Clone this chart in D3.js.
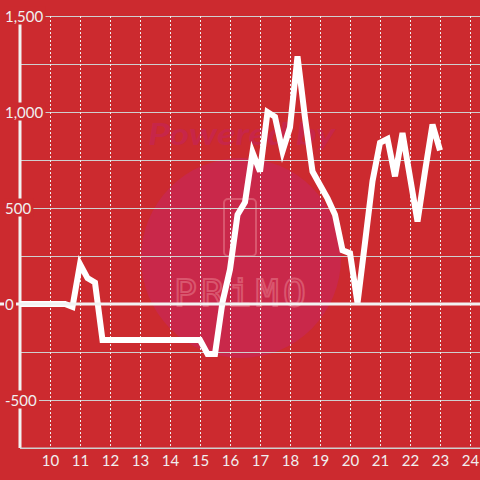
<!DOCTYPE html>
<html>
<head>
<meta charset="utf-8">
<script src="https://cdn.jsdelivr.net/npm/d3@7/dist/d3.min.js"></script>
<style>
  html, body { margin: 0; padding: 0; background: #cc2a2f; }
  svg { display: block; }
</style>
</head>
<body>
<svg id="chart" width="480" height="480"></svg>
<script>
// ---- data (hours of day, values) ----
const hours = [
  9.0, 9.25, 9.5, 9.75, 10.0, 10.25, 10.5, 10.75,
  11.0, 11.25, 11.5, 11.75, 12.0, 12.25, 12.5, 12.75,
  13.0, 13.25, 13.5, 13.75, 14.0, 14.25, 14.5, 14.75,
  15.0, 15.25, 15.5, 15.75, 16.0, 16.25, 16.5, 16.75,
  17.0, 17.25, 17.5, 17.75, 18.0, 18.25, 18.5, 18.75,
  19.0, 19.25, 19.5, 19.75, 20.0, 20.25, 20.5, 20.75,
  21.0, 21.25, 21.5, 21.75, 22.0, 22.25, 22.5, 22.75, 23.0
];
const values = [
  0, 0, 0, 0, 0, 0, 0, -15,
  208, 135, 112, -188, -188, -188, -188, -188,
  -188, -188, -188, -188, -188, -188, -188, -188,
  -188, -260, -260, 10, 180, 465, 530, 790,
  690, 1000, 975, 795, 920, 1290, 970, 690,
  620, 550, 465, 280, 265, 5, 320, 640,
  840, 860, 665, 890, 660, 430, 690, 935, 800
];
const xTicks = [10, 11, 12, 13, 14, 15, 16, 17, 18, 19, 20, 21, 22, 23, 24];
const yGridTicks = [-750, -500, -250, 0, 250, 500, 750, 1000, 1250, 1500];
const yLabelTicks = [-500, 0, 500, 1000, 1500];

const W = 480, H = 480;
const bg = "#cc2a2f";
const svg = d3.select("#chart");

const x = d3.scaleLinear().domain([9, 24]).range([20, 470]);
const y = d3.scaleLinear().domain([-750, 1500]).range([448, 16]);

svg.append("rect").attr("width", W).attr("height", H).attr("fill", bg);

// ---- watermark ----
const wm = svg.append("g");
wm.append("circle").attr("cx", 241).attr("cy", 258).attr("r", 100).attr("fill", "#c9284a");
wm.append("text").attr("x", 148).attr("y", 145)
  .attr("font-family", "Lato, sans-serif").attr("font-weight", "bold").attr("font-style", "italic")
  .attr("font-size", 31).attr("fill", "#c72649")
  .attr("textLength", 187).attr("lengthAdjust", "spacingAndGlyphs").text("Powered by");
wm.append("rect").attr("x", 224).attr("y", 199).attr("width", 32).attr("height", 57).attr("rx", 4)
  .attr("fill", "none").attr("stroke", "#d9566e").attr("stroke-width", 2);
wm.append("text").attr("x", 240).attr("y", 306).attr("text-anchor", "middle")
  .attr("font-family", "DejaVu Sans Mono, monospace").attr("font-size", 38)
  .attr("fill", "none").attr("stroke", "#d9566e").attr("stroke-width", 2)
  .attr("textLength", 132).text("PRiMO");

// ---- horizontal grid ----
const yGrid = svg.append("g").attr("transform", "translate(20,0)")
  .call(d3.axisLeft(y).tickValues(yGridTicks.filter(v => v !== 0)).tickSize(-460).tickFormat(""));
yGrid.select(".domain").remove();
yGrid.selectAll("line").attr("stroke", "#cfcfcf").attr("stroke-width", 1.2);

// ---- vertical dotted grid ----
const xGrid = svg.append("g").attr("transform", "translate(0,446)")
  .call(d3.axisBottom(x).tickValues(xTicks).tickSize(-(446 - 16)).tickFormat(""));
xGrid.select(".domain").remove();
xGrid.selectAll("line").attr("stroke", "#f0f0f0").attr("stroke-width", 1).attr("stroke-dasharray", "2,2");

// ---- y axis line ----
svg.append("line").attr("x1", 20).attr("x2", 20).attr("y1", y(1500)).attr("y2", 448)
  .attr("stroke", "#f2f2f2").attr("stroke-width", 3);

// ---- series ----
const data = hours.map((h, i) => ({ h, v: values[i] }));
svg.append("path").datum(data)
  .attr("fill", "none").attr("stroke", "#ffffff").attr("stroke-width", 6)
  .attr("stroke-linejoin", "miter")
  .attr("d", d3.line().x(d => x(d.h)).y(d => y(d.v)));

// ---- zero line ----
svg.append("line").attr("x1", 0).attr("x2", W).attr("y1", y(0)).attr("y2", y(0))
  .attr("stroke", "#f2f2f2").attr("stroke-width", 3);

// ---- y labels with background ----
const fmt = d => d3.format(",")(d).replace("\u2212", "-");
const yl = svg.append("g");
yLabelTicks.forEach(v => {
  const g = yl.append("g");
  const r = g.append("rect").attr("fill", bg);
  const t = g.append("text").attr("x", 5).attr("y", y(v) + 5.5)
    .attr("font-family", "Lato, sans-serif").attr("font-size", 15).attr("fill", "#f0f0f0")
    .text(fmt(v));
  const b = t.node().getBBox();
  r.attr("x", b.x - 1).attr("y", b.y).attr("width", b.width + 3).attr("height", b.height);
});

// ---- x labels ----
const xAx = svg.append("g").attr("transform", "translate(0,448)")
  .call(d3.axisBottom(x).tickValues(xTicks).tickSize(0).tickPadding(7).tickFormat(d3.format("d")));
xAx.select(".domain").remove();
xAx.selectAll("text").attr("font-family", "Lato, sans-serif").attr("font-size", 15).attr("fill", "#f0f0f0");

// ---- bottom line ----
svg.append("line").attr("x1", 20).attr("x2", W).attr("y1", 448).attr("y2", 448)
  .attr("stroke", "#cfcfcf").attr("stroke-width", 1.2);
</script>
</body>
</html>
